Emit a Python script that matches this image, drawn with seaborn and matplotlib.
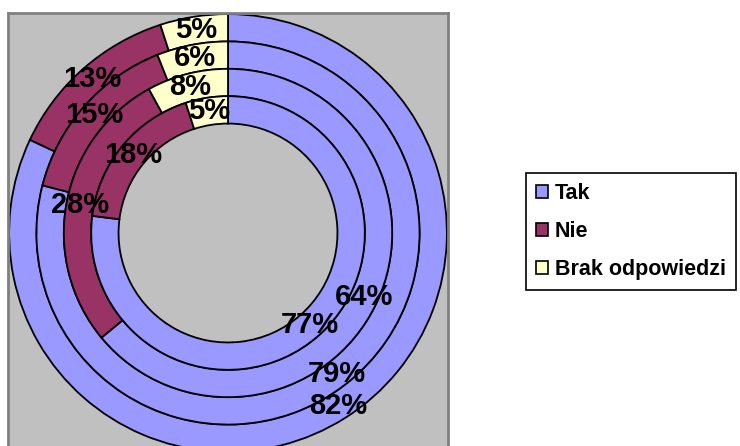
import numpy as np
import matplotlib
matplotlib.use("Agg")
import matplotlib.pyplot as plt
import seaborn as sns

# ---------------------------------------------------------------
# data (rings listed from outside to inside)
# ---------------------------------------------------------------
categories = ["Tak", "Nie", "Brak odpowiedzi"]
ring_1 = [82, 13, 5]
ring_2 = [79, 15, 6]
ring_3 = [64, 28, 8]
ring_4 = [77, 18, 5]
rings = [ring_1, ring_2, ring_3, ring_4]

colors = ["#9999FF", "#993366", "#FFFFCC"]

sns.set_style("white")
plt.rcParams['font.family'] = ['Liberation Sans', 'DejaVu Sans']

fig = plt.figure(figsize=(7.4, 4.46), dpi=100)
# plot area: x 8..448 px, y 13..453 px (runs past the bottom of the image)
ax = fig.add_axes([8 / 740, (446 - 453) / 446, 440 / 740, 440 / 446])

width = 0.125
handles = None
for i, vals in enumerate(rings):
    radius = 1.0 - i * width
    wedges, _ = ax.pie(vals, radius=radius, colors=colors, startangle=90,
                       counterclock=False,
                       wedgeprops=dict(width=width, edgecolor="black", linewidth=1.3))
    if handles is None:
        handles = wedges
    for w, v in zip(wedges, vals):
        ang = np.deg2rad((w.theta1 + w.theta2) / 2)
        r = radius - width / 2
        ax.text(r * np.cos(ang), r * np.sin(ang), f"{v}%", ha="center", va="center",
                fontsize=21, fontweight="bold", color="black")

ax.set_frame_on(True)
ax.set_facecolor("#C0C0C0")
for s in ax.spines.values():
    s.set_visible(True)
    s.set_color("#808080")
    s.set_linewidth(2)
ax.set_xlim(-1.005, 1.005)
ax.set_ylim(-1.005, 1.005)
ax.set_aspect("equal")
ax.set_xticks([])
ax.set_yticks([])

leg = fig.legend(handles, categories, loc="upper left",
                 bbox_to_anchor=(526 / 740, 1 - 173 / 446),
                 prop=dict(weight="bold", size=15.5), frameon=True, fancybox=False,
                 framealpha=1, edgecolor="black", handlelength=0.55, handleheight=0.55,
                 handletextpad=0.35, labelspacing=0.8, borderpad=0.45, borderaxespad=0)
leg.get_frame().set_linewidth(1.2)
for t in leg.get_texts():
    t.set_color("black")
for h in leg.legend_handles:
    h.set_edgecolor("black")
    h.set_linewidth(1.2)

fig.savefig("out.png", dpi=100)
